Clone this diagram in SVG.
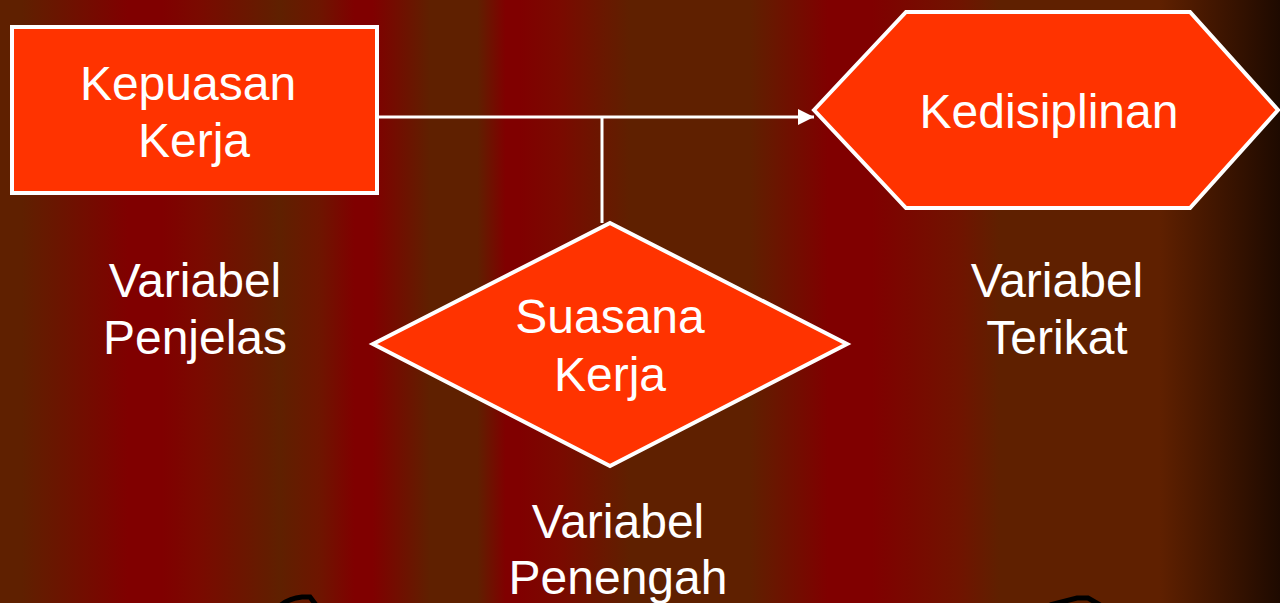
<svg xmlns="http://www.w3.org/2000/svg" width="1280" height="603" viewBox="0 0 1280 603">
<defs>
<linearGradient id="bg" x1="0" y1="0" x2="1280" y2="0" gradientUnits="userSpaceOnUse">
<stop offset="0" stop-color="#5F2000"/>
<stop offset="0.017" stop-color="#5F2000"/>
<stop offset="0.1" stop-color="#800000"/>
<stop offset="0.127" stop-color="#800000"/>
<stop offset="0.156" stop-color="#7A0A00"/>
<stop offset="0.219" stop-color="#5F2000"/>
<stop offset="0.25" stop-color="#6E1500"/>
<stop offset="0.277" stop-color="#800000"/>
<stop offset="0.291" stop-color="#800000"/>
<stop offset="0.336" stop-color="#5F2000"/>
<stop offset="0.373" stop-color="#5F2000"/>
<stop offset="0.395" stop-color="#800000"/>
<stop offset="0.406" stop-color="#800000"/>
<stop offset="0.438" stop-color="#7A0A00"/>
<stop offset="0.492" stop-color="#5F2000"/>
<stop offset="0.586" stop-color="#5F2000"/>
<stop offset="0.647" stop-color="#800000"/>
<stop offset="0.681" stop-color="#800000"/>
<stop offset="0.75" stop-color="#701400"/>
<stop offset="0.781" stop-color="#5F2000"/>
<stop offset="0.906" stop-color="#5F2000"/>
<stop offset="1" stop-color="#1E0A00"/>
</linearGradient>
<marker id="arrow" viewBox="0 0 10 10" refX="10" refY="5" markerWidth="16" markerHeight="16" markerUnits="userSpaceOnUse" orient="auto">
<path d="M0,0 L10,5 L0,10 z" fill="#FFFFFF"/>
</marker>
<style>
.shape{fill:#FF3300;stroke:#FFFFFF;stroke-width:4}
.t{font-family:"Liberation Sans",Arial,sans-serif;font-size:48px;fill:#FFFFFF;text-anchor:middle}
.conn{stroke:#FFFFFF;stroke-width:3;fill:none}
</style>
</defs>
<rect x="0" y="0" width="1280" height="603" fill="url(#bg)"/>
<g id="decor" fill="none" stroke="#000000" stroke-width="5">
<path d="M281,605 Q290,598 302,597 L310,597 L316,605"/>
<path d="M1050,605 L1077,598 L1088,598 L1100,605"/>
</g>
<g id="connectors">
<line class="conn" x1="377" y1="117" x2="814" y2="117" marker-end="url(#arrow)"/>
<line class="conn" x1="602" y1="117" x2="602" y2="223"/>
</g>
<g id="kepuasan">
<rect class="shape" x="12" y="27" width="365" height="166"/>
<text class="t" x="188" y="100">Kepuasan</text>
<text class="t" x="194" y="157">Kerja</text>
</g>
<g id="kedisiplinan">
<polygon class="shape" points="814,110 906,12 1190,12 1278,110 1190,208 906,208"/>
<text class="t" x="1049" y="128">Kedisiplinan</text>
</g>
<g id="suasana">
<polygon class="shape" points="610,223 847,344 610,466 373,344"/>
<text class="t" x="610" y="333">Suasana</text>
<text class="t" x="610" y="391">Kerja</text>
</g>
<g id="label-penjelas">
<text class="t" x="195" y="297">Variabel</text>
<text class="t" x="195" y="354">Penjelas</text>
</g>
<g id="label-terikat">
<text class="t" x="1057" y="297">Variabel</text>
<text class="t" x="1057" y="354">Terikat</text>
</g>
<g id="label-penengah">
<text class="t" x="618" y="538">Variabel</text>
<text class="t" x="618" y="594">Penengah</text>
</g>
</svg>
